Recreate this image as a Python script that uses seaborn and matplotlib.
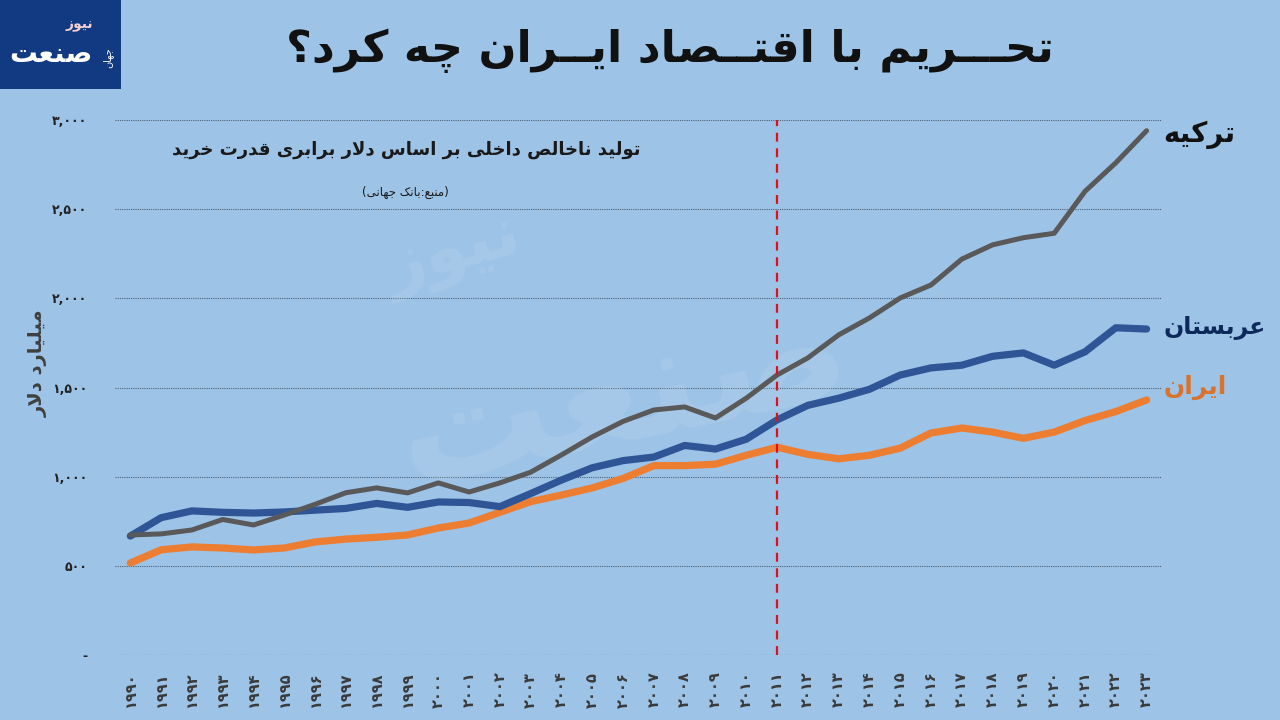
import matplotlib
matplotlib.use("Agg")
import numpy as np
import pandas as pd
from matplotlib import pyplot as plt
from matplotlib.patches import Rectangle
import seaborn as sns

years = list(range(1990, 2024))

turkey = [673, 679, 701, 760, 729, 785, 845, 910, 937, 909,
          965, 914, 965, 1025, 1122, 1223, 1310, 1374, 1391, 1329,
          1440, 1570, 1666, 1795, 1890, 2002, 2075, 2220, 2300, 2340,
          2365, 2600, 2760, 2940]
saudi = [667, 770, 808, 800, 796, 802, 812, 822, 850, 828,
         858, 855, 832, 905, 981, 1050, 1090, 1110, 1175, 1155,
         1210, 1318, 1400, 1440, 1490, 1570, 1610, 1625, 1675, 1694,
         1625, 1700, 1835, 1828]
iran = [516, 590, 606, 600, 589, 600, 634, 650, 660, 673,
        712, 740, 800, 860, 897, 937, 990, 1062, 1062, 1070,
        1120, 1165, 1125, 1100, 1120, 1160, 1245, 1273, 1250, 1215,
        1250, 1315, 1365, 1430]

title = "تحـــریم با اقتــصاد ایــران چه کرد؟"
subtitle = "تولید ناخالص داخلی بر اساس دلار برابری قدرت خرید"
source = "(منبع:بانک جهانی)"
ylabel = "میلیارد دلار"
names = ["ترکیه", "عربستان", "ایران"]

# --- minimal persian shaping (matplotlib does no arabic shaping) ---
DUAL = {
    'ب': ('\ufe8f', '\ufe90', '\ufe91', '\ufe92'),
    'ت': ('\ufe95', '\ufe96', '\ufe97', '\ufe98'),
    'ج': ('\ufe9d', '\ufe9e', '\ufe9f', '\ufea0'),
    'ح': ('\ufea1', '\ufea2', '\ufea3', '\ufea4'),
    'خ': ('\ufea5', '\ufea6', '\ufea7', '\ufea8'),
    'س': ('\ufeb1', '\ufeb2', '\ufeb3', '\ufeb4'),
    'ص': ('\ufeb9', '\ufeba', '\ufebb', '\ufebc'),
    'ع': ('\ufec9', '\ufeca', '\ufecb', '\ufecc'),
    'ق': ('\ufed5', '\ufed6', '\ufed7', '\ufed8'),
    'ل': ('\ufedd', '\ufede', '\ufedf', '\ufee0'),
    'م': ('\ufee1', '\ufee2', '\ufee3', '\ufee4'),
    'ن': ('\ufee5', '\ufee6', '\ufee7', '\ufee8'),
    'ه': ('\ufee9', '\ufeea', '\ufeeb', '\ufeec'),
    'چ': ('\ufb7a', '\ufb7b', '\ufb7c', '\ufb7d'),
    'ک': ('\ufb8e', '\ufb8f', '\ufb90', '\ufb91'),
    'ی': ('\ufbfc', '\ufbfd', '\ufbfe', '\ufbff'),
    'ـ': ('ـ', 'ـ', 'ـ', 'ـ'),
}
RIGHT = {
    'ا': ('\ufe8d', '\ufe8e'),
    'د': ('\ufea9', '\ufeaa'),
    'ر': ('\ufead', '\ufeae'),
    'ز': ('\ufeaf', '\ufeb0'),
    'و': ('\ufeed', '\ufeee'),
}


def fa(text):
    out = []
    i, n = 0, len(text)
    while i < n:
        c = text[i]
        prev = text[i - 1] if i > 0 else ''
        nxt = text[i + 1] if i + 1 < n else ''
        joins_prev = prev in DUAL and (c in DUAL or c in RIGHT)
        if c == 'ل' and nxt == 'ا':
            out.append('\ufefc' if joins_prev else '\ufefb')
            i += 2
            continue
        if c in DUAL:
            joins_next = nxt in DUAL or nxt in RIGHT
            iso, fin, ini, med = DUAL[c]
            if joins_prev and joins_next:
                out.append(med)
            elif joins_prev:
                out.append(fin)
            elif joins_next:
                out.append(ini)
            else:
                out.append(iso)
        elif c in RIGHT:
            out.append(RIGHT[c][1] if joins_prev else RIGHT[c][0])
        else:
            out.append({'(': ')', ')': '('}.get(c, c))
        i += 1
    return ''.join(reversed(out))


fa_digits = str.maketrans('0123456789', '۰۱۲۳۴۵۶۷۸۹')

df = pd.DataFrame({'year': years, 'turkey': turkey, 'saudi': saudi, 'iran': iran})

bg = '#9dc3e6'
sns.set_theme(style='white')
plt.rcParams['font.family'] = ['DejaVu Sans']

fig = plt.figure(figsize=(12.8, 7.2), dpi=100, facecolor=bg)
ax = fig.add_axes([0.0898, 0.0903, 0.818, 0.743])
ax.set_facecolor(bg)

colors = {'turkey': '#595959', 'saudi': '#2f5597', 'iran': '#ed7d31'}
widths = {'turkey': 3.6, 'saudi': 5.2, 'iran': 5.2}
for col in ['iran', 'saudi', 'turkey']:
    sns.lineplot(data=df, x='year', y=col, ax=ax, color=colors[col],
                 linewidth=widths[col], solid_capstyle='round',
                 solid_joinstyle='round', zorder=3)

ax.axvline(2011, color='#e0101a', linestyle=(0, (4, 3)), linewidth=1.6, zorder=4)

ax.set_xlim(1989.5, 2023.5)
ax.set_ylim(0, 3000)
ax.set_yticks(range(0, 3001, 500))
ax.set_yticklabels(['-'] + [f'{v:,}'.translate(fa_digits) for v in range(500, 3001, 500)],
                   fontsize=9, fontweight='bold', color='#222222')
ax.set_xticks(years)
ax.set_xticklabels([str(y).translate(fa_digits) for y in years], rotation=90,
                   fontsize=10.5, fontweight='bold', color='#3a3a3a')
ax.tick_params(axis='y', length=0, pad=20)
ax.tick_params(axis='x', length=0, pad=12)
ax.yaxis.grid(True, linestyle=(0, (1, 1)), color='#4d6278', linewidth=0.8)
ax.xaxis.grid(False)
for s in ax.spines.values():
    s.set_visible(False)
ax.set_xlabel('')
ax.set_ylabel('')

# direct labels at line ends
label_cols = {'turkey': '#111111', 'saudi': '#0e2a5c', 'iran': '#d9732c'}
label_size = {'turkey': 20, 'saudi': 17, 'iran': 18}
offsets = {'turkey': (12, -3), 'saudi': (12, 1), 'iran': (12, 9)}
for col, name in zip(['turkey', 'saudi', 'iran'], names):
    ax.annotate(fa(name), xy=(years[-1], df[col].iloc[-1]), xytext=offsets[col],
                textcoords='offset points', ha='left', va='center',
                fontsize=label_size[col], fontweight='bold', color=label_cols[col],
                annotation_clip=False)

# faint watermark of the logo
ax.text(2006, 1450, fa('صنعت'), fontsize=110, color='white', alpha=0.1,
        ha='center', va='center', rotation=12, fontweight='bold', zorder=2)
ax.text(2000.5, 2250, fa('نیوز'), fontsize=50, color='white', alpha=0.1,
        ha='center', va='center', rotation=15, fontweight='bold', zorder=2)

fig.text(0.523, 0.93, fa(title), fontsize=32, fontweight='bold', color='#111111',
         ha='center', va='center')
fig.text(0.317, 0.792, fa(subtitle), fontsize=13, fontweight='bold', color='#1a1a1a',
         ha='center', va='center')
fig.text(0.317, 0.733, fa(source), fontsize=8.5, color='#1a1a1a', ha='center', va='center')
fig.text(0.03, 0.496, fa(ylabel), fontsize=14, fontweight='bold', color='#3f3f3f',
         rotation=90, ha='center', va='center')

# logo box
fig.patches.append(Rectangle((0, 0.876), 0.0945, 0.124, transform=fig.transFigure,
                             facecolor='#123a82', edgecolor='none', zorder=5))
fig.text(0.040, 0.925, fa('صنعت'), fontsize=20, fontweight='bold', color='white',
         ha='center', va='center', zorder=6)
fig.text(0.062, 0.965, fa('نیوز'), fontsize=10, fontweight='bold', color='#f2d0d0',
         ha='center', va='center', zorder=6)
fig.text(0.084, 0.92, fa('جهان'), fontsize=7, color='white', rotation=90,
         ha='center', va='center', zorder=6)

fig.savefig('out.png', dpi=100, facecolor=bg)
